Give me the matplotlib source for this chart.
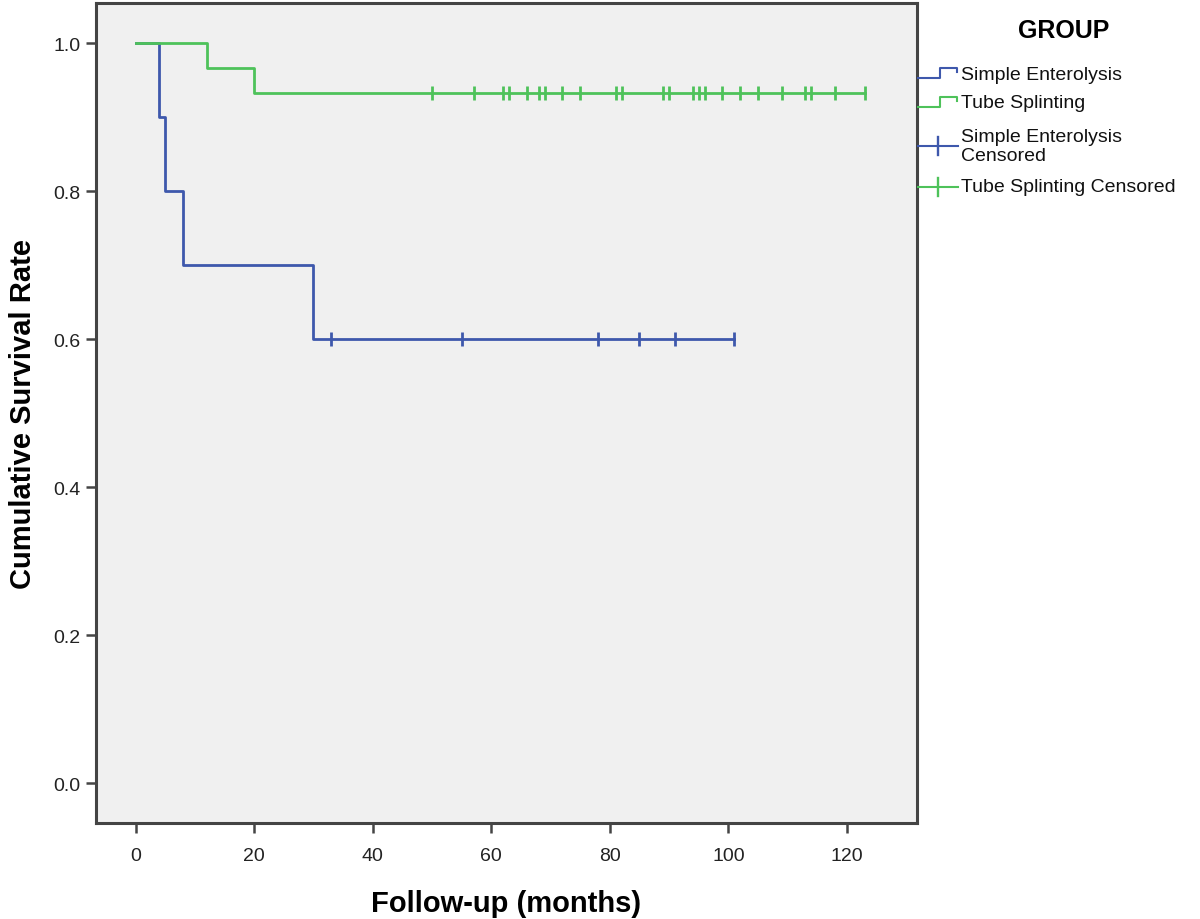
import matplotlib
matplotlib.use("Agg")
import matplotlib.pyplot as plt
from matplotlib.lines import Line2D
import numpy as np

# Kaplan-Meier curves
simple_times = [0, 4, 5, 8, 30]
simple_surv = [1.0, 0.9, 0.8, 0.7, 0.6]
simple_censored = [33, 55, 78, 85, 91, 101]

tube_times = [0, 12, 20]
tube_surv = [1.0, 0.967, 0.933]
tube_censored = [50, 57, 62, 63, 66, 68, 69, 72, 75, 81, 82, 89, 90, 94, 95,
                 96, 99, 102, 105, 109, 113, 114, 118, 123]

x_ticks = [0, 20, 40, 60, 80, 100, 120]
y_ticks = [0.0, 0.2, 0.4, 0.6, 0.8, 1.0]

legend_labels = ["Simple Enterolysis", "Tube Splinting",
                 "Simple Enterolysis\nCensored", "Tube Splinting Censored"]

BLUE = "#3e58ac"
GREEN = "#4ec25a"
FRAME = "#444444"

plt.rcParams['font.family'] = ['Liberation Sans', 'DejaVu Sans']

fig = plt.figure(figsize=(12, 9.2), dpi=100)
ax = fig.add_axes([0.08, 0.104, 0.684, 0.892])
ax.set_facecolor("#f0f0f0")


def km_line(times, surv, censored):
    # extend to last censored time
    xs = list(times) + [max(censored)]
    ys = list(surv) + [surv[-1]]
    cy = [surv[-1]] * len(censored)
    return xs, ys, cy


xs, ys, cy = km_line(simple_times, simple_surv, simple_censored)
ax.step(xs, ys, where="post", color=BLUE, lw=2, zorder=2)
ax.plot(simple_censored, cy, ls="none", marker="|", ms=10, mew=2, color=BLUE, zorder=4)

xs, ys, cy = km_line(tube_times, tube_surv, tube_censored)
ax.step(xs, ys, where="post", color=GREEN, lw=2, zorder=3)
ax.plot(tube_censored, cy, ls="none", marker="|", ms=10, mew=2, color=GREEN, zorder=4)

ax.set_xlim(-6.7, 131.8)
ax.set_ylim(-0.054, 1.055)
ax.set_xticks(x_ticks)
ax.set_yticks(y_ticks)
ax.set_xticklabels([str(t) for t in x_ticks])
ax.set_yticklabels([f"{t:.1f}" for t in y_ticks])
ax.tick_params(axis="both", direction="out", length=7, width=1.8, color=FRAME,
               labelsize=14, labelcolor="#222222", pad=4)
ax.tick_params(axis="x", pad=10)
for s in ax.spines.values():
    s.set_color(FRAME)
    s.set_linewidth(2.2)

ax.set_xlabel("Follow-up (months)", fontsize=21, fontweight="bold", labelpad=18)
ax.set_ylabel("Cumulative Survival Rate", fontsize=21, fontweight="bold", labelpad=12)

# legend drawn in a pixel-coordinate axes on the right
lg = fig.add_axes([917 / 1200, 1 - 210 / 920, 283 / 1200, 210 / 920])
lg.set_xlim(917, 1200)
lg.set_ylim(210, 0)
lg.axis("off")

lg.text(1064, 31, "GROUP", ha="center", va="center", fontsize=18, fontweight="bold")

rows = [75, 104, 147, 188]
colors = [BLUE, GREEN, BLUE, GREEN]
for i, (row, c, lab) in enumerate(zip(rows, colors, legend_labels)):
    if i < 2:
        lg.add_line(Line2D([917, 940, 940, 957, 957], [row + 4, row + 4, row - 6, row - 6, row - 2],
                           color=c, lw=1.5))
    else:
        lg.add_line(Line2D([917, 958], [row, row], color=c, lw=1.5))
        lg.add_line(Line2D([938, 938], [row - 9, row + 9], color=c, lw=1.7))
    lg.text(961, row, lab, ha="left", va="center", fontsize=14,
            linespacing=1.1, color="#111111")

fig.savefig("out.png", dpi=100)
